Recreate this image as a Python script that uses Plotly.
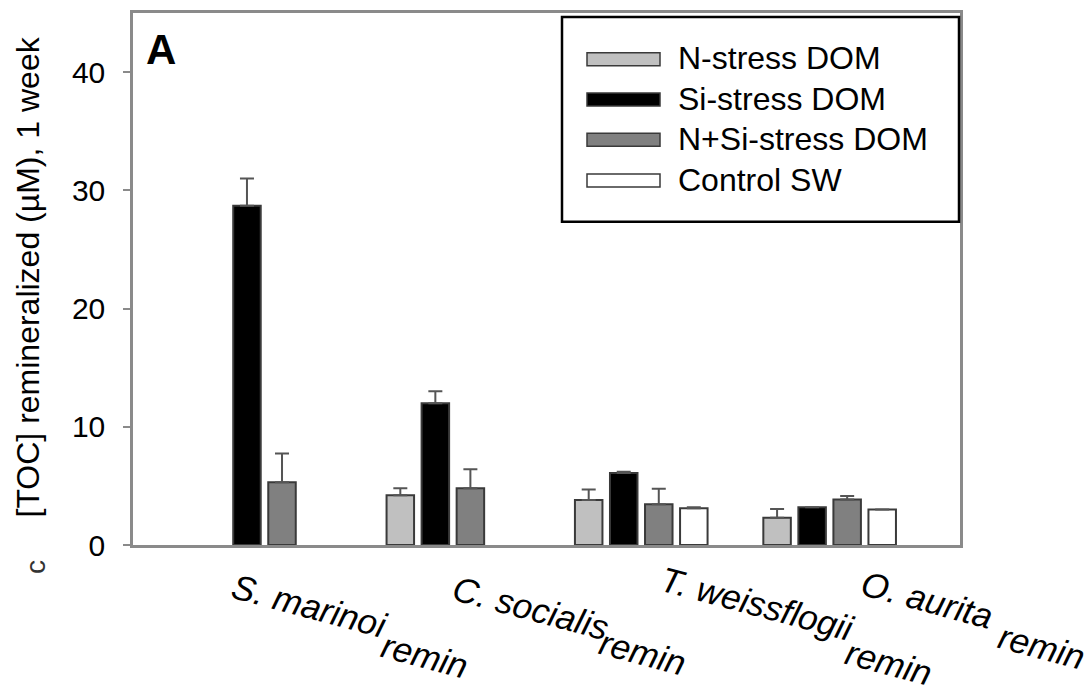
import plotly.graph_objects as go

# ---------------- data ----------------
categories = ["S. marinoi", "C. socialis", "T. weissflogii", "O. aurita"]
subscript = "remin"
series_names = ["N-stress DOM", "Si-stress DOM", "N+Si-stress DOM", "Control SW"]

n_stress = [None, 4.2, 3.8, 2.3]
n_stress_err = [0, 0.6, 0.9, 0.75]
si_stress = [28.7, 12.0, 6.1, 3.2]
si_stress_err = [2.3, 1.0, 0.1, 0]
nsi_stress = [5.3, 4.8, 3.45, 3.85]
nsi_stress_err = [2.45, 1.6, 1.3, 0.3]
control = [None, None, 3.1, 3.0]
control_err = [0, 0, 0.1, 0]

y_ticks = [0, 10, 20, 30, 40]
y_title = "[TOC] remineralized (µM), 1 week"
panel_label = "A"

# ---------------- style ----------------
colors = ["#c0c0c0", "#000000", "#808080", "#ffffff"]
outline = "#3a3a3a"
frame = "#8a8a8a"
FONT = "Liberation Sans, Arial, sans-serif"

W, H = 1092, 692
L, R, T, B = 133, 132, 10, 147
PW, PH = W - L - R, H - T - B


def px_x(p):
    return (p - L) / PW


def px_y(p):
    return (H - B - p) / PH


x_idx = list(range(len(categories)))
series = [
    (n_stress, n_stress_err),
    (si_stress, si_stress_err),
    (nsi_stress, nsi_stress_err),
    (control, control_err),
]

fig = go.Figure()
for name, (vals, errs), col in zip(series_names, series, colors):
    fig.add_trace(go.Bar(
        x=x_idx, y=vals, name=name,
        marker=dict(color=col, line=dict(color=outline, width=2)),
        error_y=dict(type="data", array=errs, arrayminus=[0] * len(errs),
                     symmetric=False, color="#555555", thickness=2, width=7),
        showlegend=False,
    ))

fig.update_layout(
    width=W, height=H,
    margin=dict(l=L, r=R, t=T, b=B, pad=0),
    paper_bgcolor="white", plot_bgcolor="white",
    barmode="group", bargap=0.256, bargroupgap=0.215,
    font=dict(family=FONT, color="black"),
)
fig.update_xaxes(
    range=[-0.698, 3.692], showticklabels=False, ticks="",
    showgrid=False, zeroline=False,
    showline=True, linecolor=frame, linewidth=2.5, mirror=True,
)
fig.update_yaxes(
    range=[0, 45], tickvals=y_ticks, ticks="outside", ticklen=7,
    tickwidth=2, tickcolor=frame, tickfont=dict(size=30, family=FONT),
    ticklabelstandoff=12,
    showgrid=False, zeroline=False,
    showline=True, linecolor=frame, linewidth=2.5, mirror=True,
)

annotations = []
# y-axis title
annotations.append(dict(
    text=y_title, xref="paper", yref="paper", x=px_x(28), y=px_y(276),
    xanchor="center", yanchor="middle", textangle=-90, showarrow=False,
    font=dict(size=32, family=FONT),
))
annotations.append(dict(
    text="c", xref="paper", yref="paper", x=px_x(36), y=px_y(567),
    xanchor="center", yanchor="middle", textangle=-90, showarrow=False,
    font=dict(size=28, family=FONT, color="#333"),
))
# panel label
annotations.append(dict(
    text="<b>%s</b>" % panel_label, xref="paper", yref="paper",
    x=px_x(161), y=px_y(47), xanchor="center", yanchor="middle",
    showarrow=False, font=dict(size=42, family=FONT),
))

# category labels (rotated, with subscript)
main_centers = [(309, 606), (530, 608), (757, 604), (927, 600)]
sub_centers = [(425, 656), (643, 653), (889, 663), (1042, 647)]
for cat, (mx, my), (sx, sy) in zip(categories, main_centers, sub_centers):
    annotations.append(dict(
        text="<i>%s</i>" % cat, xref="paper", yref="paper",
        x=px_x(mx), y=px_y(my), xanchor="center", yanchor="middle",
        textangle=15, showarrow=False, font=dict(size=35, family=FONT),
    ))
    annotations.append(dict(
        text="<i>%s</i>" % subscript, xref="paper", yref="paper",
        x=px_x(sx), y=px_y(sy), xanchor="center", yanchor="middle",
        textangle=15, showarrow=False, font=dict(size=35, family=FONT),
    ))

# manual legend
shapes = [dict(type="rect", xref="paper", yref="paper",
               x0=px_x(562), x1=px_x(959), y0=px_y(220), y1=px_y(14),
               line=dict(color="black", width=2.5), fillcolor="white",
               layer="above")]
row_y = [56.5, 97, 137.5, 178.5]
for name, col, ry in zip(series_names, colors, row_y):
    shapes.append(dict(type="rect", xref="paper", yref="paper",
                       x0=px_x(587), x1=px_x(660), y0=px_y(ry + 6.5), y1=px_y(ry - 6.5),
                       line=dict(color=outline, width=1.5), fillcolor=col,
                       layer="above"))
    annotations.append(dict(
        text=name, xref="paper", yref="paper", x=px_x(676), y=px_y(ry - 1),
        xanchor="left", yanchor="middle", showarrow=False,
        font=dict(size=32, family=FONT),
    ))

fig.update_layout(annotations=annotations, shapes=shapes)
fig.write_html(
    "out.html",
    config={"displayModeBar": False},
    post_script="document.body.style.margin='0px';document.body.style.overflow='hidden';",
)
